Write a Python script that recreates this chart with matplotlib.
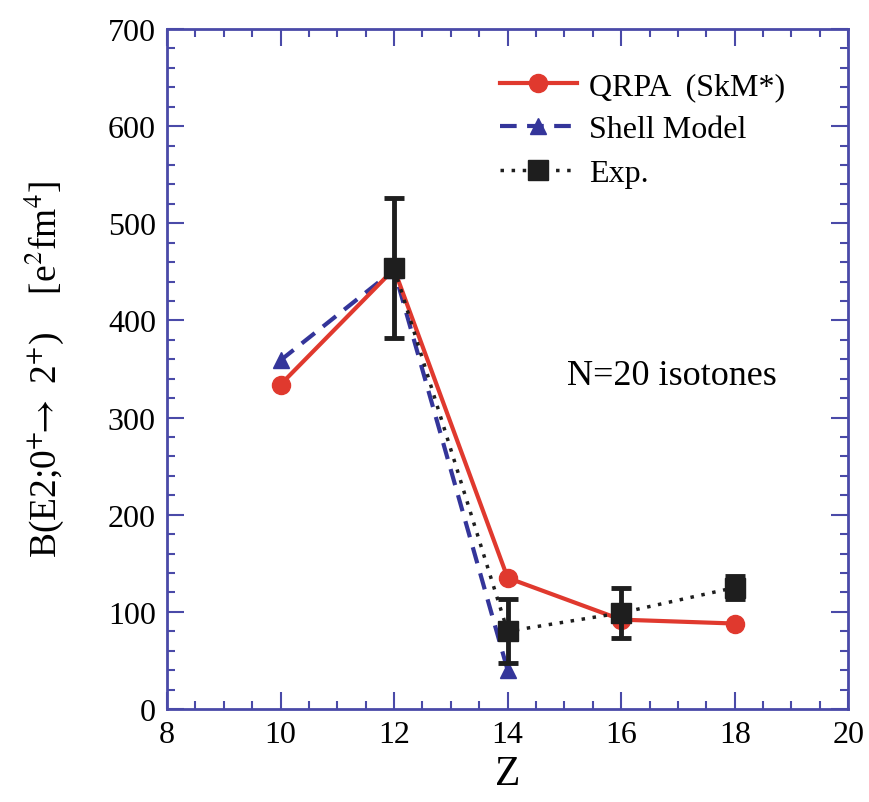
#!/usr/bin/env python3
"""B(E2; 0+ -> 2+) for N=20 isotones: QRPA vs shell model vs experiment."""

import matplotlib
matplotlib.use("Agg")
import matplotlib.pyplot as plt
from matplotlib.ticker import MultipleLocator

plt.rcParams["font.family"] = ["Liberation Serif", "DejaVu Serif"]
plt.rcParams["mathtext.fontset"] = "stix"

# data
z_qrpa = [10, 12, 14, 16, 18]
be2_qrpa = [334, 453, 135, 92, 88]

z_shell = [10, 12, 14]
be2_shell = [359, 452, 40]

z_exp = [12, 14, 16, 18]
be2_exp = [454, 80, 99, 125]
be2_exp_err = [72, 33, 26, 12]

RED = "#e0392e"
BLUE = "#34359a"
BLACK = "#1e1e1e"
FRAME = "#4a4aa8"

fig = plt.figure(figsize=(8.7, 8.03), dpi=100)
ax = fig.add_axes([0.192, 0.1158, 0.783, 0.8468])

ax.plot(z_qrpa, be2_qrpa, color=RED, lw=3, marker="o", ms=13,
        label="QRPA  (SkM*)", zorder=3)
ax.plot(z_shell, be2_shell, color=BLUE, lw=3, ls=(0, (4, 2.5)), marker="^", ms=11,
        label="Shell Model", zorder=2)
ax.errorbar(z_exp, be2_exp, yerr=be2_exp_err, color=BLACK, ls="none",
            elinewidth=3.5, capsize=7, capthick=3.5, zorder=4)
ax.plot(z_exp, be2_exp, color=BLACK, lw=2.5, ls=(0, (1, 2.2)), marker="s",
        ms=15, label="Exp.", zorder=5)

ax.set_xlim(8, 20)
ax.set_ylim(0, 700)
ax.xaxis.set_major_locator(MultipleLocator(2))
ax.xaxis.set_minor_locator(MultipleLocator(0.5))
ax.yaxis.set_major_locator(MultipleLocator(100))
ax.yaxis.set_minor_locator(MultipleLocator(20))
ax.tick_params(which="both", direction="in", top=True, right=True,
               color=FRAME, width=1.5, labelsize=23, pad=8)
ax.tick_params(which="major", length=12)
ax.tick_params(which="minor", length=6)
for spine in ax.spines.values():
    spine.set_color(FRAME)
    spine.set_linewidth(2)

ax.set_xlabel("Z", fontsize=30, labelpad=4)
ax.set_ylabel(r"B(E2;0$^{+}\!\!\rightarrow$ 2$^{+}$)    [e$^{2}$fm$^{4}$]",
              fontsize=27, labelpad=30)

ax.text(15.05, 335, "N=20 isotones", fontsize=26)

leg = ax.legend(loc="upper right", bbox_to_anchor=(0.95, 0.98), frameon=False,
                fontsize=23, handlelength=2.4, handletextpad=0.4,
                labelspacing=0.45)

fig.savefig("out.png", dpi=100)
